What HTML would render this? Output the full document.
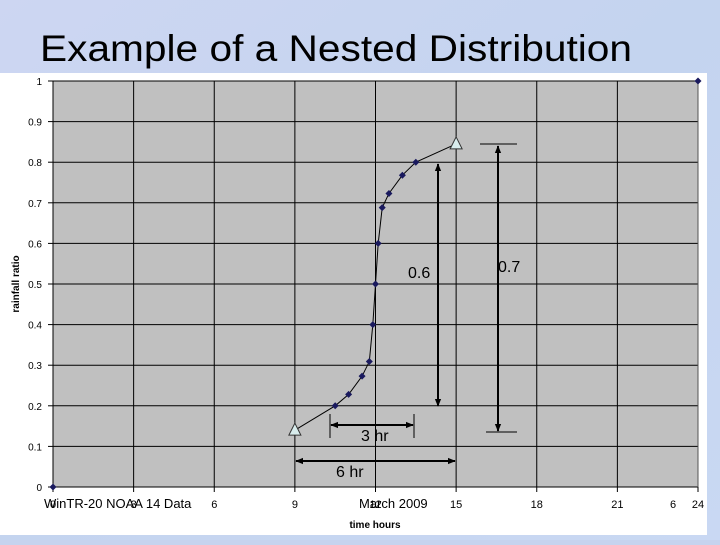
<!DOCTYPE html>
<html><head><meta charset="utf-8">
<style>
html,body{margin:0;padding:0;}
body{width:720px;height:540px;overflow:hidden;background:#c6d3ee;font-family:"Liberation Sans",sans-serif;}
</style></head>
<body>
<svg id="chart" width="720" height="540" xmlns="http://www.w3.org/2000/svg">
<defs>
<linearGradient id="bg" x1="0" y1="0" x2="1" y2="1">
<stop offset="0" stop-color="#cdd6f2"/><stop offset="0.5" stop-color="#c4d4ef"/><stop offset="1" stop-color="#c9d8f3"/>
</linearGradient>
<marker id="ah" viewBox="0 0 10 10" refX="9" refY="5" markerWidth="4" markerHeight="4" orient="auto-start-reverse"><path d="M0,1 L10,5 L0,9 z" fill="#000"/></marker>
</defs>
<rect x="0" y="0" width="720" height="540" fill="url(#bg)"/>
<text x="40" y="61" font-size="37" textLength="592" lengthAdjust="spacingAndGlyphs" fill="#000">Example of a Nested Distribution</text>
<rect x="0" y="73" width="707" height="462" fill="#fff"/>
<g id="plot"></g>
</svg>
<script>
const xTicks = [0, 3, 6, 9, 12, 15, 18, 21, 24];
const xTickLabels = ["0", "3", "6", "9", "12", "15", "18", "21", "24"];
const yTicks = [0, 0.1, 0.2, 0.3, 0.4, 0.5, 0.6, 0.7, 0.8, 0.9, 1];
const yTickLabels = ["0", "0.1", "0.2", "0.3", "0.4", "0.5", "0.6", "0.7", "0.8", "0.9", "1"];
const seriesX = [10.5, 11, 11.5, 11.77, 11.9, 12, 12.1, 12.25, 12.5, 13, 13.5];
const seriesY = [0.2, 0.228, 0.273, 0.309, 0.4, 0.5, 0.6, 0.688, 0.723, 0.768, 0.8];
const endX = [0, 24];
const endY = [0, 1];
const triX = [9, 15];
const triY = [0.14, 0.845];

const X0 = 53, X1 = 698, Y0 = 487, Y1 = 81;
const xs = v => X0 + (v - 0) / 24 * (X1 - X0);
const ys = v => Y0 - v * (Y0 - Y1);
const NS = "http://www.w3.org/2000/svg";
const g = document.getElementById("plot");
function mk(tag, attrs, parent) {
  const e = document.createElementNS(NS, tag);
  for (const k in attrs) e.setAttribute(k, attrs[k]);
  (parent || g).appendChild(e);
  return e;
}
let el;
el = mk("rect", {x: X0, y: Y1, width: X1 - X0, height: Y0 - Y1, fill: "#c0c0c0"});


// grid
yTicks.forEach((t, i) => {
  el = mk("line", {x1: X0, x2: X1, y1: ys(t), y2: ys(t), stroke: "#000", "stroke-width": 1});
  
  
  mk("line", {x1: X0 - 5, x2: X0, y1: ys(t), y2: ys(t), stroke: "#000"});
  el = mk("text", {x: 42, y: ys(t) + 4, "font-size": 10, "text-anchor": "end", fill: "#000"});
  el.textContent = yTickLabels[i];
  
  
});
xTicks.forEach((t, i) => {
  el = mk("line", {x1: xs(t), x2: xs(t), y1: Y1, y2: Y0, stroke: "#000", "stroke-width": 1});
  
  
  mk("line", {x1: xs(t), x2: xs(t), y1: Y0, y2: Y0 + 5, stroke: "#000"});
  el = mk("text", {x: xs(t), y: 508, "font-size": 11, "text-anchor": "middle", fill: "#000"});
  el.textContent = xTickLabels[i];
  
  
});
mk("line", {x1: X0, x2: X0, y1: Y1, y2: Y0, stroke: "#000"});
mk("line", {x1: X0, x2: X1, y1: Y0, y2: Y0, stroke: "#000"});
mk("line", {x1: X1, x2: X1, y1: Y1, y2: Y0, stroke: "#555"});
// axis titles
el = mk("text", {x: 0, y: 0, "font-size": 10, "font-weight": "bold", "text-anchor": "middle", transform: "translate(19,284) rotate(-90)"});
el.textContent = "rainfall ratio";


el = mk("text", {x: 375, y: 528, "font-size": 10, "font-weight": "bold", "text-anchor": "middle"});
el.textContent = "time  hours";


el = mk("text", {x: 44, y: 508, "font-size": 13, fill: "#000"});
el.textContent = "WinTR-20 NOAA 14 Data";


el = mk("text", {x: 359, y: 508, "font-size": 13, fill: "#000"});
el.textContent = "March 2009";


el = mk("text", {x: 670, y: 508, "font-size": 11, fill: "#000"});
el.textContent = "6";


// series line
const px = [triX[0]].concat(seriesX, [triX[1]]);
const py = [triY[0]].concat(seriesY, [triY[1]]);
el = mk("polyline", {points: px.map((v, i) => xs(v) + "," + ys(py[i])).join(" "), fill: "none", stroke: "#000", "stroke-width": 1});


function diamond(x, y) {
  return mk("path", {d: `M${x},${y - 3.5} L${x + 3.5},${y} L${x},${y + 3.5} L${x - 3.5},${y} Z`, fill: "#1a1a5e"});
}
seriesX.forEach((v, i) => {
  el = diamond(xs(v), ys(seriesY[i]));
  
  
});
endX.forEach((v, i) => {
  el = diamond(xs(v), ys(endY[i]));
  
  
});
triX.forEach((v, i) => {
  const x = xs(v), y = ys(triY[i]);
  el = mk("path", {d: `M${x},${y - 7} L${x + 6},${y + 5} L${x - 6},${y + 5} Z`, fill: "#d8ecec", stroke: "#333", "stroke-width": 1});
  
  
});
// annotations
function arrow(x1, y1, x2, y2, name) {
  const a = mk("line", {x1, y1, x2, y2, stroke: "#000", "stroke-width": 2, "marker-start": "url(#ah)", "marker-end": "url(#ah)"});
  
  
}
arrow(438, 164, 438, 406, "arrow-0-6");
arrow(498, 146, 498, 431, "arrow-0-7");
mk("line", {x1: 480, x2: 517, y1: 144, y2: 144, stroke: "#000"});
mk("line", {x1: 486, x2: 517, y1: 432, y2: 432, stroke: "#000"});
arrow(331, 425, 413, 425, "arrow-3hr");
mk("line", {x1: 330, x2: 330, y1: 414, y2: 438, stroke: "#000"});
mk("line", {x1: 414, x2: 414, y1: 414, y2: 438, stroke: "#000"});
arrow(296, 461, 455, 461, "arrow-6hr");
[["0.6", 408, 278, "label-0-6"], ["0.7", 498, 272, "label-0-7"], ["3 hr", 361, 441, "label-3hr"], ["6 hr", 336, 477, "label-6hr"]].forEach(t => {
  el = mk("text", {x: t[1], y: t[2], "font-size": 16, fill: "#000"});
  el.textContent = t[0];
  
  
});
</script>
</body></html>
